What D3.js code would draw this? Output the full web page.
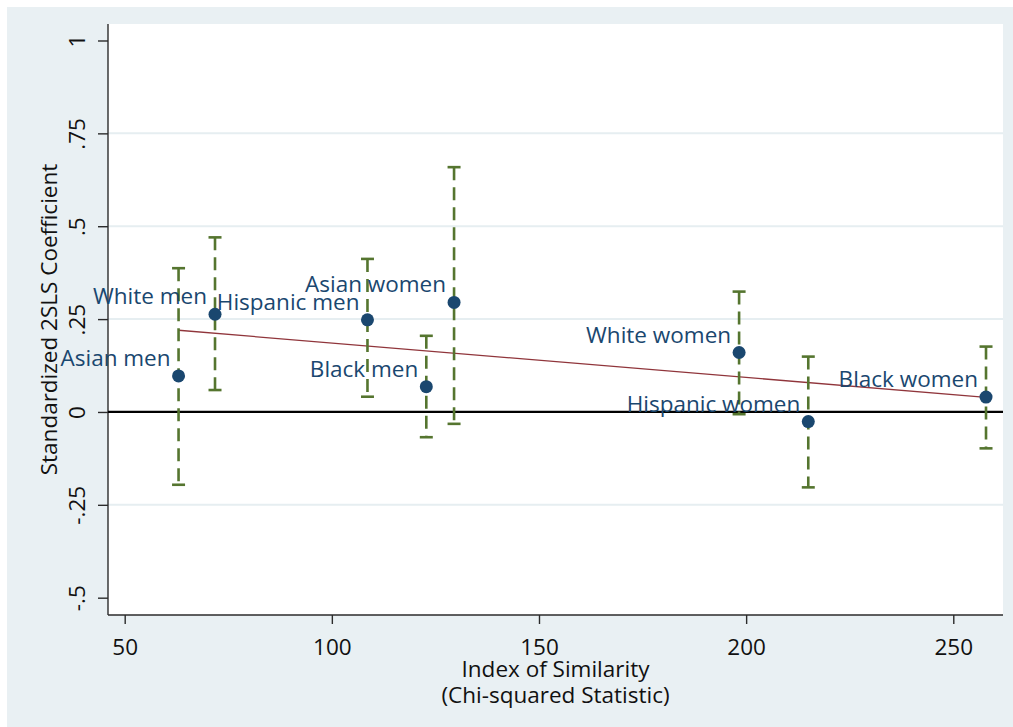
<!DOCTYPE html>
<html>
<head>
<meta charset="utf-8">
<script src="https://cdn.jsdelivr.net/npm/d3@7"></script>
<style>
  body { margin: 0; background: #fff; }
  svg text { font-family: "Open Sans", sans-serif; }
</style>
</head>
<body>
<div id="chart"></div>
<script>
// values
var groups = ["Asian men", "White men", "Hispanic men", "Black men",
  "Asian women", "White women", "Hispanic women", "Black women"];
var similarity = [63.0, 71.8, 108.6, 122.8, 129.5, 198.3, 215.0, 257.9];
var coef = [0.097, 0.263, 0.248, 0.068, 0.295, 0.160, -0.026, 0.040];
var ciLow = [-0.196, 0.059, 0.041, -0.068, -0.032, -0.006, -0.203, -0.098];
var ciHigh = [0.387, 0.470, 0.412, 0.205, 0.659, 0.324, 0.149, 0.176];

var xTicks = [50, 100, 150, 200, 250];
var yTicks = [-0.5, -0.25, 0, 0.25, 0.5, 0.75, 1];
var yTickLabels = ["-.5", "-.25", "0", ".25", ".5", ".75", "1"];
var gridTicks = [-0.25, 0.25, 0.5, 0.75];

var W = 1013, H = 727;
var plot = { left: 108, right: 1003, top: 24, bottom: 615 };

var navy = "#1a476f", green = "#55752f", maroon = "#90353b";

var data = groups.map(function (g, i) {
  return { name: g, x: similarity[i], y: coef[i], lo: ciLow[i], hi: ciHigh[i] };
});

var x = d3.scaleLinear().domain([45.97, 262.0]).range([plot.left, plot.right]);
var y = d3.scaleLinear().domain([-0.5466, 1.0444]).range([plot.bottom, plot.top]);

var svg = d3.select("#chart").append("svg")
  .attr("width", W)
  .attr("height", H);

// graph region + plot region
svg.append("rect").attr("x", 7).attr("y", 7).attr("width", W - 7).attr("height", H - 7)
  .attr("fill", "#e9f0f3");
svg.append("rect").attr("x", plot.left).attr("y", plot.top)
  .attr("width", plot.right - plot.left).attr("height", plot.bottom - plot.top)
  .attr("fill", "#fff");

// grid lines
svg.selectAll(".grid")
  .data(gridTicks)
  .enter().append("line")
  .attr("x1", plot.left).attr("x2", plot.right)
  .attr("y1", function (d) { return y(d); })
  .attr("y2", function (d) { return y(d); })
  .attr("stroke", "#e6eef1")
  .attr("stroke-width", 2);

// y axis
var yAxis = svg.append("g")
  .attr("transform", "translate(" + plot.left + ",0)")
  .call(d3.axisLeft(y).tickValues(yTicks)
    .tickFormat(function (d, i) { return yTickLabels[i]; })
    .tickSize(10).tickSizeOuter(0));
yAxis.select(".domain").attr("stroke", "#2b2b2b").attr("stroke-width", 1.4)
  .attr("d", "M0," + plot.top + "V" + plot.bottom);
yAxis.selectAll(".tick line").attr("stroke", "#2b2b2b").attr("stroke-width", 1.4);
// rotated tick labels, stata style
yAxis.selectAll(".tick text")
  .attr("x", 0).attr("y", -23).attr("dy", 0)
  .attr("text-anchor", "middle")
  .attr("transform", "rotate(-90)")
  .attr("fill", "#111")
  .style("font-size", "22.5px");

// x axis
var xAxis = svg.append("g")
  .attr("transform", "translate(0," + plot.bottom + ")")
  .call(d3.axisBottom(x).tickValues(xTicks).tickSize(9).tickSizeOuter(0));
xAxis.select(".domain").attr("stroke", "#2b2b2b").attr("stroke-width", 1.4)
  .attr("d", "M" + plot.left + ",0H" + plot.right);
xAxis.selectAll(".tick line").attr("stroke", "#2b2b2b").attr("stroke-width", 1.4);
xAxis.selectAll(".tick text")
  .attr("y", 40).attr("dy", 0)
  .attr("fill", "#111")
  .style("font-size", "22.5px");

// axis titles
svg.append("text")
  .attr("transform", "translate(57," + ((plot.top + plot.bottom) / 2) + ") rotate(-90)")
  .attr("text-anchor", "middle")
  .attr("fill", "#111")
  .style("font-size", "22.5px")
  .text("Standardized 2SLS Coefficient");

var xt = svg.append("text")
  .attr("text-anchor", "middle")
  .attr("fill", "#111")
  .style("font-size", "22.5px");
xt.append("tspan").attr("x", (plot.left + plot.right) / 2).attr("y", 677).text("Index of Similarity");
xt.append("tspan").attr("x", (plot.left + plot.right) / 2).attr("y", 703).text("(Chi-squared Statistic)");

// zero line
svg.append("line")
  .attr("x1", plot.left).attr("x2", plot.right)
  .attr("y1", y(0)).attr("y2", y(0))
  .attr("stroke", "#000")
  .attr("stroke-width", 2.2);

// linear fit (least squares of coef on similarity)
var mx = d3.mean(similarity), my = d3.mean(coef);
var sxy = d3.sum(data, function (d) { return (d.x - mx) * (d.y - my); });
var sxx = d3.sum(data, function (d) { return (d.x - mx) * (d.x - mx); });
var slope = sxy / sxx, icpt = my - slope * mx;
var xr = d3.extent(similarity);
svg.append("line")
  .attr("x1", x(xr[0])).attr("y1", y(icpt + slope * xr[0]))
  .attr("x2", x(xr[1])).attr("y2", y(icpt + slope * xr[1]))
  .attr("stroke", maroon)
  .attr("stroke-width", 1.3);

// confidence intervals
var ci = svg.append("g").selectAll("g")
  .data(data)
  .enter().append("g")
  .attr("stroke", green)
  .attr("stroke-width", 2.6);
ci.append("line")
  .attr("x1", function (d) { return x(d.x); })
  .attr("x2", function (d) { return x(d.x); })
  .attr("y1", function (d) { return y(d.hi); })
  .attr("y2", function (d) { return y(d.lo); })
  .attr("stroke-dasharray", "13,7");
ci.append("line")
  .attr("x1", function (d) { return x(d.x) - 6.5; })
  .attr("x2", function (d) { return x(d.x) + 6.5; })
  .attr("y1", function (d) { return y(d.hi); })
  .attr("y2", function (d) { return y(d.hi); });
ci.append("line")
  .attr("x1", function (d) { return x(d.x) - 6.5; })
  .attr("x2", function (d) { return x(d.x) + 6.5; })
  .attr("y1", function (d) { return y(d.lo); })
  .attr("y2", function (d) { return y(d.lo); });

// points
svg.selectAll(".pt")
  .data(data)
  .enter().append("circle")
  .attr("cx", function (d) { return x(d.x); })
  .attr("cy", function (d) { return y(d.y); })
  .attr("r", 6.5)
  .attr("fill", navy);

// marker labels (10 o'clock)
svg.selectAll(".lbl")
  .data(data)
  .enter().append("text")
  .attr("x", function (d) { return x(d.x) - 8; })
  .attr("y", function (d) { return y(d.y) - 10; })
  .attr("text-anchor", "end")
  .attr("fill", navy)
  .style("font-size", "22.5px")
  .text(function (d) { return d.name; });
</script>
</body>
</html>
